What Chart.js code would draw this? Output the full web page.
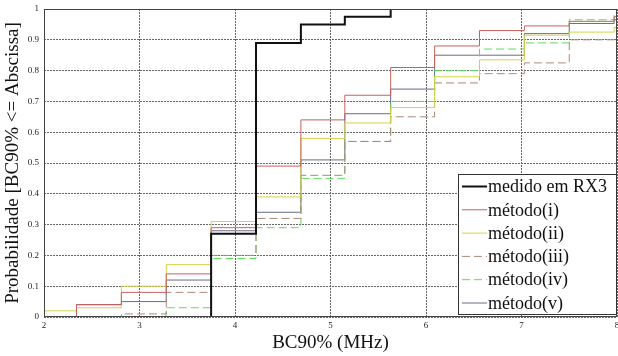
<!DOCTYPE html>
<html>
<head>
<meta charset="utf-8">
<script src="https://cdn.jsdelivr.net/npm/chart.js@4.4.0/dist/chart.umd.min.js"></script>
<style>
  html, body { margin: 0; padding: 0; background: #fff; }
  #wrap { width: 618px; height: 356px; }
</style>
</head>
<body>
<div id="wrap"><canvas id="cdf"></canvas></div>
<script>
// step edges of the CDF (MHz), first = left limit, last = right limit
const edges = [2, 2.34, 2.81, 3.28, 3.75, 4.22, 4.69, 5.15, 5.63, 6.09, 6.56, 7.03, 7.50, 7.97];
const xMax = 8;

// value held from each edge to the next one
const medido = [0, 0, 0, 0, 0.27, 0.89, 0.95, 0.975, 1, null, null, null, null, null];
const metodoI = [0, 0.04, 0.08, 0.14, 0.29, 0.49, 0.64, 0.72, 0.81, 0.88, 0.93, 0.945, 0.96, 0.975];
const metodoII = [0.02, 0.03, 0.10, 0.17, 0.31, 0.39, 0.58, 0.63, 0.68, 0.78, 0.835, 0.915, 0.925, 0.94];
const metodoIII = [0, 0, 0.01, 0.08, 0.20, 0.32, 0.46, 0.57, 0.65, 0.76, 0.79, 0.825, 0.90, 0.90];
const metodoIV = [0, 0, 0, 0.03, 0.19, 0.29, 0.45, 0.57, 0.70, 0.80, 0.87, 0.89, 0.965, 0.98];
const metodoV = [0, 0.04, 0.05, 0.12, 0.28, 0.34, 0.51, 0.66, 0.74, 0.85, 0.85, 0.92, 0.953, 0.965];

const xTicks = [2, 3, 4, 5, 6, 7, 8];
const yTicks = [0, 0.1, 0.2, 0.3, 0.4, 0.5, 0.6, 0.7, 0.8, 0.9, 1];

function steps(vals) {
  const pts = edges.map((x, i) => ({ x: x, y: vals[i] }));
  const last = vals[vals.length - 1];
  if (last !== null) pts.push({ x: xMax, y: last });
  return pts;
}

function series(label, vals, color, width, dash) {
  return {
    label: label,
    data: steps(vals),
    borderColor: color,
    backgroundColor: color,
    borderWidth: width,
    borderDash: dash,
    stepped: true,
    pointRadius: 0,
    fill: false
  };
}

const serif = "'Liberation Serif', 'DejaVu Serif', serif";

// frame + legend box inside the plot, like the matlab figure
const framePlugin = {
  id: "frame",
  afterDatasetsDraw(chart) {
    const ctx = chart.ctx;
    const a = chart.chartArea;
    ctx.save();
    ctx.strokeStyle = "#444";
    ctx.lineWidth = 1;
    ctx.setLineDash([]);
    ctx.strokeRect(a.left + 0.5, a.top + 0.5, a.right - a.left - 1, a.bottom - a.top - 1);

    const w = 158, h = 140;
    const bx = a.right - w - 1, by = a.bottom - h - 3;
    ctx.fillStyle = "#fff";
    ctx.fillRect(bx, by, w, h);
    ctx.strokeStyle = "#333";
    ctx.strokeRect(bx + 0.5, by + 0.5, w, h);

    ctx.font = "18px " + serif;
    ctx.textBaseline = "middle";
    chart.data.datasets.forEach((ds, i) => {
      const y = by + 12.5 + i * 23.3;
      ctx.strokeStyle = ds.borderColor;
      ctx.lineWidth = ds.borderWidth;
      ctx.setLineDash(ds.borderDash || []);
      ctx.beginPath();
      ctx.moveTo(bx + 4, y);
      ctx.lineTo(bx + 29, y);
      ctx.stroke();
      ctx.setLineDash([]);
      ctx.fillStyle = "#111";
      ctx.fillText(ds.label, bx + 30, y + 1);
    });
    ctx.restore();
  }
};

new Chart(document.getElementById("cdf"), {
  type: "line",
  data: {
    datasets: [
      series("medido em RX3", medido, "#111111", 2, []),
      series("método(i)", metodoI, "#c8605c", 1, []),
      series("método(ii)", metodoII, "#d4d24a", 1, []),
      series("método(iii)", metodoIII, "#a88a78", 1, [8, 4]),
      series("método(iv)", metodoIV, "#5cdc5c", 1, [8, 4]),
      series("método(v)", metodoV, "#6a6c86", 1, [])
    ]
  },
  options: {
    responsive: true,
    maintainAspectRatio: false,
    animation: false,
    layout: { padding: { top: 9, right: 1, left: 0, bottom: 0 } },
    plugins: {
      legend: { display: false },
      tooltip: { enabled: false }
    },
    scales: {
      x: {
        type: "linear",
        min: 2,
        max: xMax,
        afterBuildTicks: (s) => { s.ticks = xTicks.map(v => ({ value: v })); },
        afterFit: (s) => { s.height = 39; s.paddingLeft = 0; s.paddingRight = 0; },
        grid: { color: "#666", lineWidth: 1, drawTicks: false },
        border: { display: false, dash: [2, 1] },
        ticks: { font: { family: serif, size: 9 }, color: "#222", padding: 3, maxRotation: 0 },
        title: { display: true, text: "BC90% (MHz)", font: { family: serif, size: 19 }, color: "#111", padding: { top: 0, bottom: 2 } }
      },
      y: {
        min: 0,
        max: 1,
        afterBuildTicks: (s) => { s.ticks = yTicks.map(v => ({ value: v })); },
        afterFit: (s) => { s.width = 44; s.paddingTop = 0; s.paddingBottom = 0; },
        grid: { color: "#666", lineWidth: 1, drawTicks: false },
        border: { display: false, dash: [2, 1] },
        ticks: { font: { family: serif, size: 9 }, color: "#222", padding: 5, callback: (v) => String(v) },
        title: { display: true, text: "Probabilidade [BC90% <= Abscissa]", font: { family: serif, size: 19 }, color: "#111", padding: { top: 2, bottom: 0 } }
      }
    }
  },
  plugins: [framePlugin]
});
</script>
</body>
</html>
